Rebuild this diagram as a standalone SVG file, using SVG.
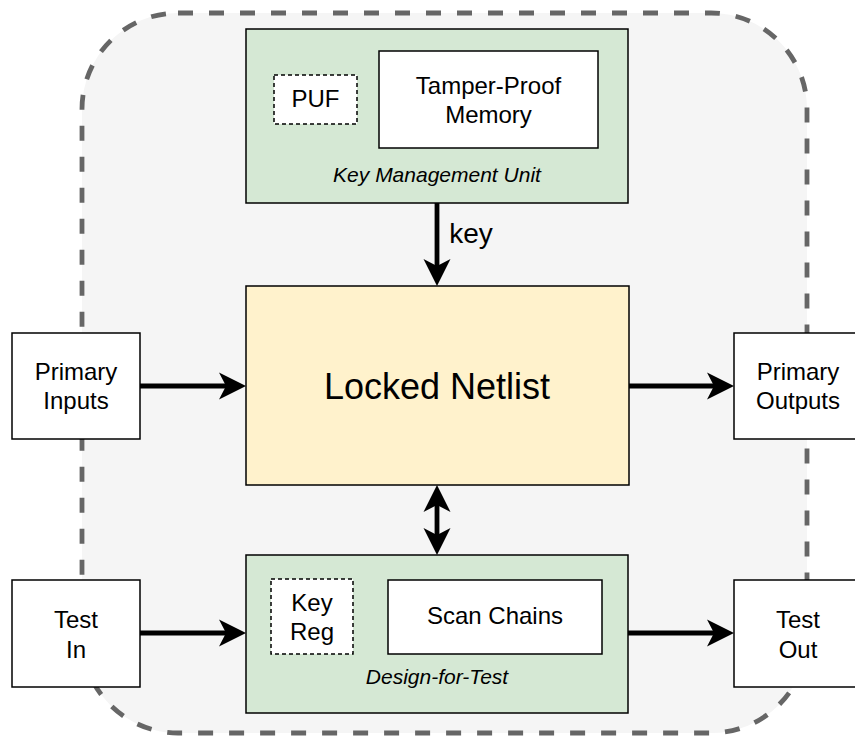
<svg xmlns="http://www.w3.org/2000/svg" width="855" height="736" viewBox="0 0 855 736">
<style>
text{font-family:"Liberation Sans",Arial,sans-serif;fill:#000;text-anchor:middle}
.t24{font-size:24px}
.t36{font-size:36px}
.it{font-size:21px;font-style:italic}
.box{fill:#fff;stroke:#000;stroke-width:1.5}
.dbox{fill:#fff;stroke:#000;stroke-width:1.5;stroke-dasharray:4 3}
.grn{fill:#d5e8d4;stroke:#000;stroke-width:1.5}
.yel{fill:#fff2cc;stroke:#000;stroke-width:1.5}
.conn{fill:none;stroke:#000;stroke-width:4.8}
</style>
<defs>
<marker id="ah" markerUnits="userSpaceOnUse" markerWidth="28" markerHeight="28" refX="7" refY="13.5" orient="auto-start-reverse" overflow="visible">
<path d="M27,13.5 L0,0 L7,13.5 L0,27 Z" fill="#000"/>
</marker>
</defs>
<g id="boundary">
<rect x="82" y="13" width="725" height="720" rx="96" ry="96" fill="#f5f5f5" stroke="#666666" stroke-width="4.8" stroke-dasharray="15 16"/>
</g>
<g id="kmu">
<rect class="grn" x="246" y="29" width="382" height="174"/>
<text class="it" x="437" y="182">Key Management Unit</text>
</g>
<g id="puf">
<rect class="dbox" x="274" y="75" width="83" height="49"/>
<text class="t24" x="315.5" y="107">PUF</text>
</g>
<g id="tpm">
<rect class="box" x="379" y="51" width="219" height="97"/>
<text class="t24" x="488.5" y="94">Tamper-Proof</text>
<text class="t24" x="488.5" y="123">Memory</text>
</g>
<g id="netlist">
<rect class="yel" x="246" y="286" width="383" height="199"/>
<text class="t36" x="437" y="399">Locked Netlist</text>
</g>
<g id="dft">
<rect class="grn" x="246" y="555" width="382" height="158"/>
<text class="it" x="437" y="684">Design-for-Test</text>
</g>
<g id="keyreg">
<rect class="dbox" x="271" y="579" width="82" height="75"/>
<text class="t24" x="312" y="611">Key</text>
<text class="t24" x="312" y="640">Reg</text>
</g>
<g id="scan">
<rect class="box" x="388" y="580" width="214" height="74"/>
<text class="t24" x="495" y="624">Scan Chains</text>
</g>
<g id="pi">
<rect class="box" x="12" y="333" width="128" height="106"/>
<text class="t24" x="76" y="380">Primary</text>
<text class="t24" x="76" y="409">Inputs</text>
</g>
<g id="po">
<rect class="box" x="734" y="333" width="128" height="106"/>
<text class="t24" x="798" y="380">Primary</text>
<text class="t24" x="798" y="409">Outputs</text>
</g>
<g id="tin">
<rect class="box" x="12" y="580" width="128" height="107"/>
<text class="t24" x="76" y="628">Test</text>
<text class="t24" x="76" y="658">In</text>
</g>
<g id="tout">
<rect class="box" x="734" y="580" width="128" height="107"/>
<text class="t24" x="798" y="628">Test</text>
<text class="t24" x="798" y="658">Out</text>
</g>
<g id="connectors">
<path class="conn" d="M437,203 V266" marker-end="url(#ah)"/>
<text x="471" y="243" style="font-size:28px">key</text>
<path class="conn" d="M140,386 H226" marker-end="url(#ah)"/>
<path class="conn" d="M629,386 H714" marker-end="url(#ah)"/>
<path class="conn" d="M437,505 V535" marker-start="url(#ah)" marker-end="url(#ah)"/>
<path class="conn" d="M140,633 H226" marker-end="url(#ah)"/>
<path class="conn" d="M628,633 H714" marker-end="url(#ah)"/>
</g>
</svg>
